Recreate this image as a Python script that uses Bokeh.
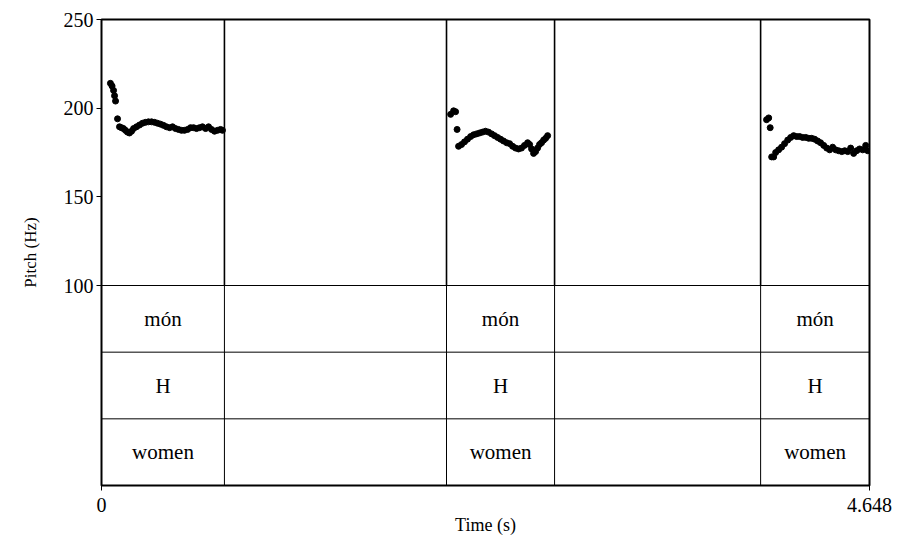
from bokeh.plotting import figure
from bokeh.models import Range1d, FixedTicker, ColumnDataSource
from bokeh.embed import file_html
from bokeh.resources import INLINE
from bokeh.core.properties import value

# ---- data ----
total_dur = 4.648
boundaries = [0.744, 2.088, 2.742, 3.989]
intervals = [(0.0, 0.744), (2.088, 2.742), (3.989, 4.648)]
tier1_labels = ["món", "món", "món"]
tier2_labels = ["H", "H", "H"]
tier3_labels = ["women", "women", "women"]
yticks = [100, 150, 200, 250]

t1 = [0.054, 0.064, 0.073, 0.079, 0.085, 0.097, 0.109, 0.121, 0.133, 0.145, 0.157, 0.169,
      0.182, 0.194, 0.212, 0.230, 0.248, 0.266, 0.284, 0.303, 0.321, 0.339, 0.357, 0.375,
      0.393, 0.412, 0.430, 0.448, 0.466, 0.484, 0.502, 0.521, 0.539, 0.557, 0.575, 0.593,
      0.611, 0.630, 0.648, 0.666, 0.684, 0.702, 0.720, 0.732]
f1 = [214, 212.5, 210, 207, 204, 194, 189.5, 189, 188.5, 187.5, 186.5, 186,
      187, 188.5, 189.5, 190.5, 191.5, 192, 192.3, 192.3, 192, 191.5, 191, 190.3,
      189.5, 189, 189.5, 188.5, 188, 187.5, 187.5, 188, 189, 189, 188.5, 189,
      189.5, 188.5, 189.5, 188, 187, 187.5, 188, 187.5]

t2 = [2.113, 2.131, 2.143, 2.152, 2.161, 2.179, 2.197, 2.215, 2.234, 2.252, 2.270, 2.288,
      2.306, 2.324, 2.342, 2.361, 2.379, 2.397, 2.415, 2.433, 2.452, 2.470, 2.488, 2.506,
      2.524, 2.542, 2.560, 2.579, 2.591, 2.603, 2.615, 2.627, 2.639, 2.651, 2.663, 2.676,
      2.688, 2.700]
f2 = [196.5, 198.5, 198, 188, 178.5, 179.5, 181, 182.5, 184, 185, 185.5, 186,
      186.5, 187, 186.5, 185.5, 184.5, 183.5, 182.5, 181.5, 180.5, 180, 178.5, 177.5,
      177, 177.5, 179, 180.5, 179.5, 177, 174.5, 175.5, 177.5, 179.5, 180.5, 182,
      183, 184.5]

t3 = [4.025, 4.038, 4.047, 4.056, 4.068, 4.080, 4.098, 4.116, 4.134, 4.153, 4.171, 4.189,
      4.207, 4.225, 4.243, 4.262, 4.280, 4.298, 4.316, 4.334, 4.352, 4.371, 4.389, 4.407,
      4.425, 4.443, 4.461, 4.480, 4.498, 4.516, 4.534, 4.552, 4.570, 4.588, 4.607, 4.625,
      4.637]
f3 = [193.5, 194.5, 189, 172.5, 172.5, 175, 176.5, 178, 180, 182, 183.5, 184.5,
      184, 184, 183.5, 183.5, 183, 183, 182.5, 181.5, 180.5, 179, 177.5, 176.5,
      178, 176.5, 176, 175.5, 176, 175.5, 177.5, 174.5, 176, 177, 176.5, 179,
      176]

# ---- layout helpers ----
FONT = "Liberation Serif"
pitch_min, pitch_max = 100, 250
frame_h_px = 466
pitch_px = 266
tier_h = (frame_h_px - pitch_px) / 3 * (pitch_max - pitch_min) / pitch_px
y_bottom = pitch_min - 3 * tier_h

p = figure(width=912, height=537, output_backend="svg", toolbar_location=None,
           x_range=Range1d(0, total_dur), y_range=Range1d(y_bottom, pitch_max),
           min_border_left=101, min_border_right=43, min_border_top=19, min_border_bottom=52)
p.grid.visible = False
p.background_fill_color = "white"
p.border_fill_color = "white"
p.outline_line_color = "black"
p.outline_line_width = 2

# tier horizontal lines
tier_lines_y = [pitch_min - i * tier_h for i in range(3)]
p.segment(x0=[0] * 3, x1=[total_dur] * 3, y0=tier_lines_y, y1=tier_lines_y,
          line_color="black", line_width=1)

# boundaries: thicker in pitch area, thin in tiers
p.segment(x0=boundaries, x1=boundaries, y0=[pitch_min] * 4, y1=[pitch_max] * 4,
          line_color="black", line_width=1.6)
p.segment(x0=boundaries, x1=boundaries, y0=[y_bottom] * 4, y1=[pitch_min] * 4,
          line_color="black", line_width=1)

# pitch points
for tt, ff in [(t1, f1), (t2, f2), (t3, f3)]:
    p.scatter(tt, ff, size=6, marker="circle", fill_color="black", line_color="black")

# tier texts
mids = [(a + b) / 2 for a, b in intervals]
for i, labels in enumerate([tier1_labels, tier2_labels, tier3_labels]):
    yc = pitch_min - (i + 0.5) * tier_h
    src = ColumnDataSource(dict(x=mids, y=[yc] * len(mids), t=labels))
    p.text(x="x", y="y", text="t", source=src, text_align="center",
           text_baseline="middle", text_font=value(FONT), text_font_size="21px",
           text_color="black")

# axes
p.yaxis.ticker = FixedTicker(ticks=yticks)
p.xaxis.ticker = FixedTicker(ticks=[0, total_dur])
for ax in [p.xaxis[0], p.yaxis[0]]:
    ax.minor_tick_line_color = None
    ax.major_tick_in = 0
    ax.major_tick_out = 5
    ax.major_tick_line_color = "black"
    ax.axis_line_color = "black"
    ax.axis_line_width = 1
    ax.major_label_text_font = FONT
    ax.major_label_text_font_size = "20px"
    ax.major_label_text_color = "black"
    ax.axis_label_text_font = FONT
    ax.axis_label_text_font_style = "normal"
    ax.axis_label_text_color = "black"
p.yaxis.axis_label = "Pitch (Hz)"
p.yaxis.axis_label_text_font_size = "17px"
p.yaxis.axis_label_standoff = 21
p.yaxis.major_label_standoff = 3
p.xaxis.axis_label = "Time (s)"
p.xaxis.axis_label_text_font_size = "18px"
p.xaxis.axis_label_standoff = 0
p.xaxis.major_label_standoff = 7

open("out.html", "w").write(file_html(p, INLINE))
